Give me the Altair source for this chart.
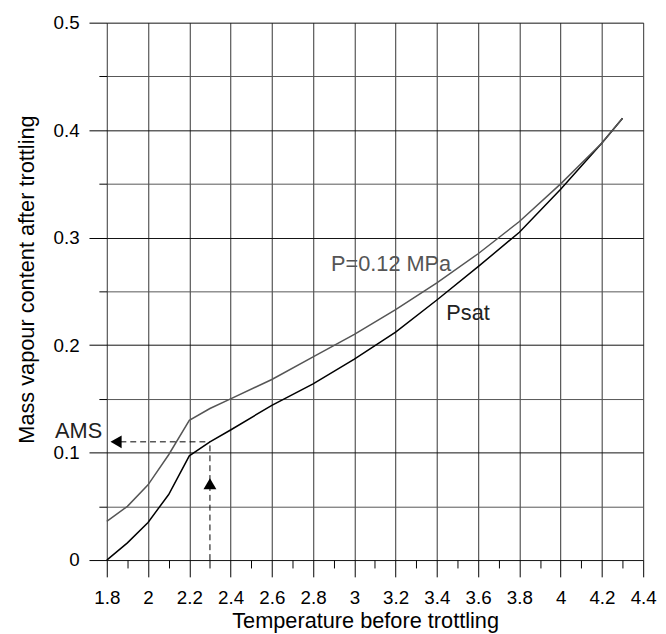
import altair as alt
import pandas as pd

# ---- data ----
temps = [1.8, 1.9, 2.0, 2.1, 2.2, 2.3, 2.4, 2.6, 2.8, 3.0, 3.2, 3.4, 3.6, 3.8, 4.0, 4.2, 4.3]
psat = [0.0, 0.016, 0.035, 0.061, 0.097, 0.110, 0.121, 0.144, 0.164, 0.187, 0.212, 0.242, 0.273, 0.305, 0.345, 0.388, 0.411]
p012 = [0.036, 0.050, 0.070, 0.098, 0.130, 0.141, 0.150, 0.168, 0.189, 0.210, 0.233, 0.258, 0.285, 0.315, 0.350, 0.388, 0.411]

x_ticks = [1.8, 1.9, 2.0, 2.1, 2.2, 2.3, 2.4, 2.5, 2.6, 2.7, 2.8, 2.9, 3.0, 3.1, 3.2, 3.3,
           3.4, 3.5, 3.6, 3.7, 3.8, 3.9, 4.0, 4.1, 4.2, 4.3, 4.4]
y_ticks = [0.0, 0.05, 0.1, 0.15, 0.2, 0.25, 0.3, 0.35, 0.4, 0.45, 0.5]

# AMS construction (dashed guide lines and arrow heads)
guide_x = [1.866, 2.3]
guide_x2 = [2.3, 2.3]
guide_y = [0.110, 0.0]
guide_y2 = [0.110, 0.110]
arrow_x = [1.845, 2.3]
arrow_y = [0.110, 0.071]
arrow_shape = ["triangle-left", "triangle-up"]

# curve labels (left aligned) and AMS label (right aligned)
label_text = ["P=0.12 MPa", "Psat"]
label_x = [2.887, 3.446]
label_y = [0.2693, 0.2233]
label_color = ["#555555", "#222222"]
ams_text = ["AMS"]
ams_x = [1.7775]
ams_y = [0.1135]

FONT = "Liberation Sans"

lines = pd.DataFrame({
    "x": temps * 2,
    "y": psat + p012,
    "series": ["Psat"] * len(temps) + ["P=0.12 MPa"] * len(temps),
})
guides = pd.DataFrame({"x": guide_x, "x2": guide_x2, "y": guide_y, "y2": guide_y2})
arrows = pd.DataFrame({"x": arrow_x, "y": arrow_y, "shape": arrow_shape})
labels = pd.DataFrame({"x": label_x, "y": label_y, "text": label_text, "color": label_color})
ams = pd.DataFrame({"x": ams_x, "y": ams_y, "text": ams_text})

xmaj = "round(datum.value*10) % 2 == 0"
ymaj = "round(datum.value*20) % 2 == 0"

x_axis = alt.Axis(
    values=x_ticks,
    title="Temperature before trottling",
    labelExpr="round(datum.value*10) % 2 == 0 ? format(datum.value, '~g') : ''",
    tickSize={"condition": {"test": xmaj, "value": 17}, "value": 8},
    gridOpacity={"condition": {"test": xmaj, "value": 1}, "value": 0},
    grid=True, gridColor="#333333", gridWidth=1,
    domain=False, tickColor="#000000", tickWidth=1,
    labelFont=FONT, labelFontSize=19, labelColor="#000000", labelPadding=12,
    labelOverlap=False, labelFlush=False, labelBound=False,
    titleFont=FONT, titleFontSize=22, titleFontWeight="normal", titleColor="#000000",
    titleX=261.5, titleY=68, titleAlign="center", titleBaseline="alphabetic",
)
y_axis = alt.Axis(
    values=y_ticks,
    title="Mass vapour content after trottling",
    labelExpr="round(datum.value*20) % 2 == 0 ? format(datum.value, '~g') : ''",
    tickSize={"condition": {"test": ymaj, "value": 18}, "value": 8},
    gridColor={"condition": {"test": ymaj, "value": "#111111"}, "value": "#555555"},
    grid=True, gridWidth=1,
    domain=False, tickColor="#000000", tickWidth=1,
    labelFont=FONT, labelFontSize=19, labelColor="#000000", labelPadding=10,
    labelOverlap=False, labelFlush=False, labelBound=False,
    titleFont=FONT, titleFontSize=22, titleFontWeight="normal", titleColor="#000000",
    titleX=-74, titleY=259.5, titleAngle=270, titleAlign="center", titleBaseline="alphabetic",
)

xs = alt.Scale(domain=[1.8, 4.4], nice=False, zero=False)
ys = alt.Scale(domain=[0, 0.5], nice=False, zero=False)

base_x = alt.X("x:Q", scale=xs, axis=x_axis)
base_y = alt.Y("y:Q", scale=ys, axis=y_axis)

curve = alt.Chart(lines).mark_line(strokeWidth=1.5, interpolate="linear").encode(
    x=base_x, y=base_y,
    color=alt.Color("series:N",
                    scale=alt.Scale(domain=["Psat", "P=0.12 MPa"], range=["#000000", "#555555"]),
                    legend=None),
    detail="series:N",
)

guide = alt.Chart(guides).mark_rule(color="#000000", strokeWidth=1, strokeDash=[6, 4]).encode(
    x=base_x, x2="x2:Q", y=base_y, y2="y2:Q",
)

arrow = alt.Chart(arrows).mark_point(filled=True, color="#000000", opacity=1, size=170).encode(
    x=base_x, y=base_y,
    shape=alt.Shape("shape:N", scale=None),
)

text = alt.Chart(labels).mark_text(font=FONT, fontSize=22, baseline="alphabetic", align="left").encode(
    x=base_x, y=base_y, text="text:N",
    color=alt.Color("color:N", scale=None),
)

ams_label = alt.Chart(ams).mark_text(font=FONT, fontSize=22, baseline="alphabetic", align="right",
                                     color="#222222").encode(
    x=base_x, y=base_y, text="text:N",
)

chart = alt.layer(curve, guide, arrow, text, ams_label).properties(
    width=543, height=544,
    autosize=alt.AutoSizeParams(type="none"),
    padding={"left": 100, "top": 11, "right": 15, "bottom": 71},
    background="white",
).configure_view(stroke=None)

chart.save("out.html", embed_options={"renderer": "svg", "actions": False})
